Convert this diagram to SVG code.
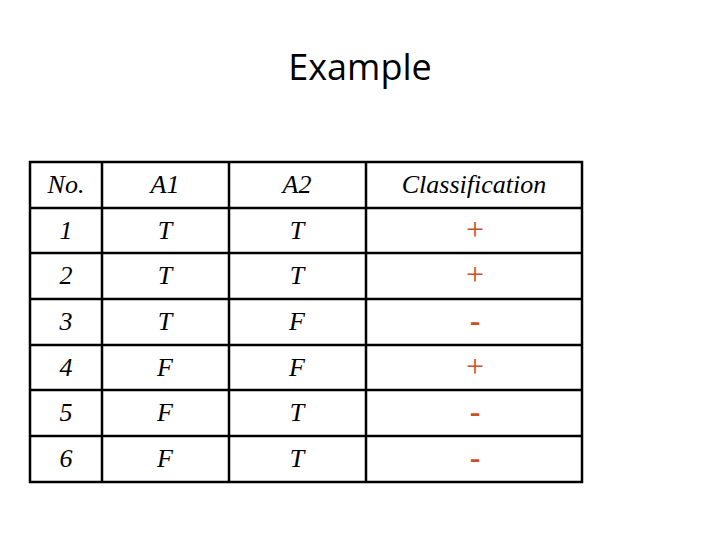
<svg xmlns="http://www.w3.org/2000/svg" width="720" height="540" viewBox="0 0 720 540">
<style>
.g{stroke:#000;stroke-width:2.5;fill:none}
.t{font-family:"Liberation Serif",serif;font-style:italic;font-size:26px;fill:#000;text-anchor:middle}
.c{font-family:"Liberation Serif",serif;font-size:32px;fill:#c8502a;text-anchor:middle}
.m{font-family:"Liberation Serif",serif;font-size:32px;font-weight:bold;fill:#c8502a;text-anchor:middle}
</style>
<rect width="720" height="540" fill="#fff"/>
<text x="360" y="80" font-family="Open Sans, sans-serif" font-size="36" text-anchor="middle">Example</text>
<g id="grid">
<rect class="g" x="30" y="162" width="552" height="320"/>
<path class="g" d="M102 162V482M229 162V482M366 162V482M30 208H582M30 253H582M30 299H582M30 345H582M30 390H582M30 436H582"/>
</g>
<g id="header"><text class="t" x="66" y="193">No.</text><text class="t" x="165" y="193">A1</text><text class="t" x="297" y="193">A2</text><text class="t" x="474" y="193">Classification</text></g>
<g id="r1"><text class="t" x="66" y="239">1</text><text class="t" x="165" y="239">T</text><text class="t" x="297" y="239">T</text><text class="c" x="475" y="240">+</text></g>
<g id="r2"><text class="t" x="66" y="284">2</text><text class="t" x="165" y="284">T</text><text class="t" x="297" y="284">T</text><text class="c" x="475" y="285">+</text></g>
<g id="r3"><text class="t" x="66" y="330">3</text><text class="t" x="165" y="330">T</text><text class="t" x="297" y="330">F</text><text class="m" x="475" y="331">-</text></g>
<g id="r4"><text class="t" x="66" y="376">4</text><text class="t" x="165" y="376">F</text><text class="t" x="297" y="376">F</text><text class="c" x="475" y="377">+</text></g>
<g id="r5"><text class="t" x="66" y="421">5</text><text class="t" x="165" y="421">F</text><text class="t" x="297" y="421">T</text><text class="m" x="475" y="422">-</text></g>
<g id="r6"><text class="t" x="66" y="467">6</text><text class="t" x="165" y="467">F</text><text class="t" x="297" y="467">T</text><text class="m" x="475" y="468">-</text></g>
</svg>
